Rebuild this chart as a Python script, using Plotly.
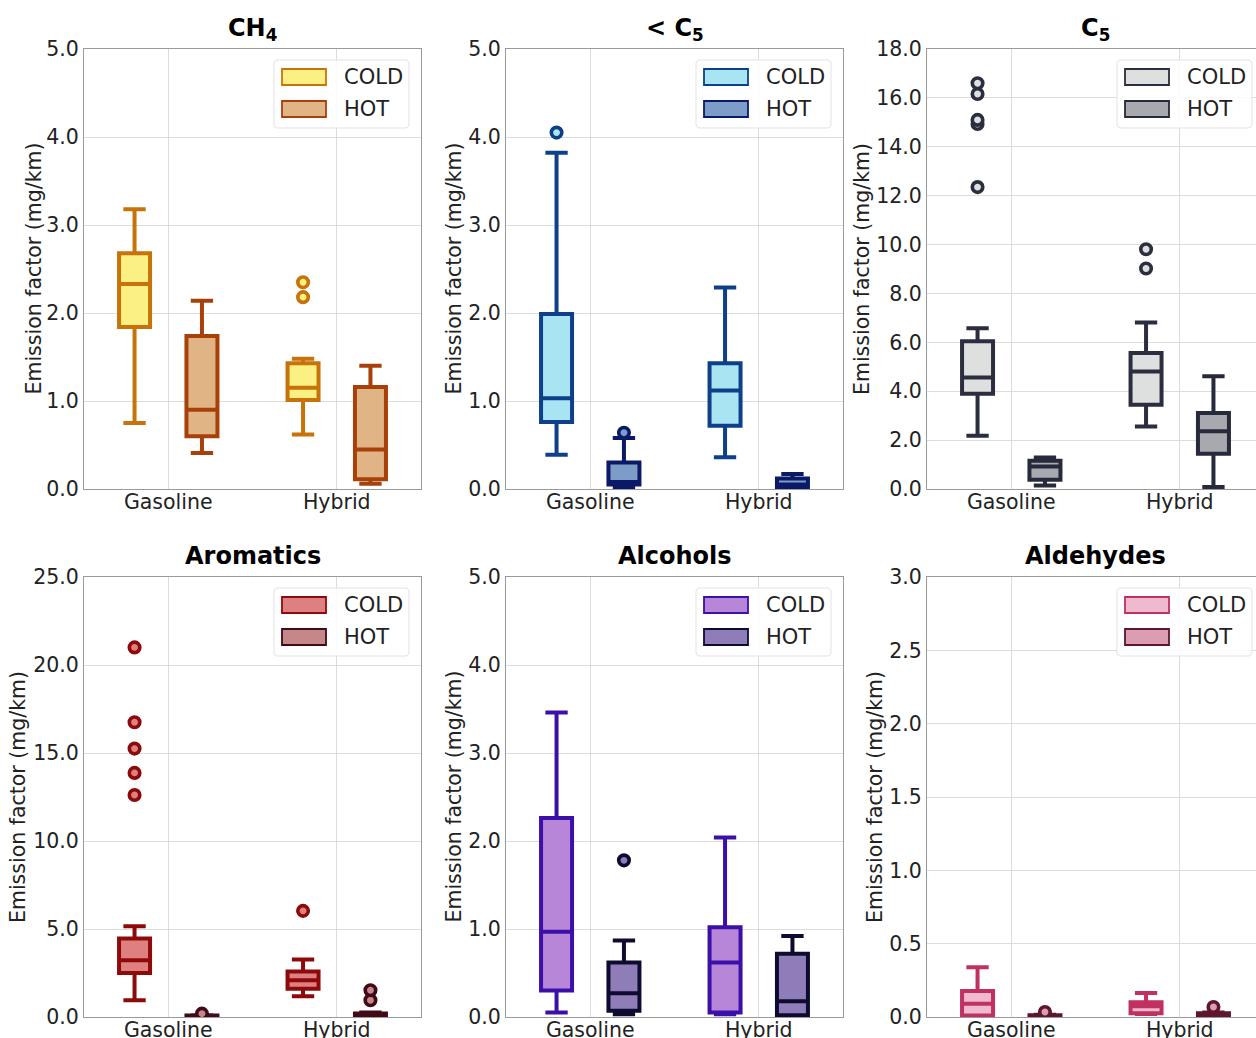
import plotly.graph_objects as go

W, H = 1256, 1038

# ---------------- data ----------------
groups = ["Gasoline", "Hybrid"]
conditions = ["COLD", "HOT"]
panel_titles = ["<b>CH<sub>4</sub></b>", "<b>&lt; C<sub>5</sub></b>", "<b>C<sub>5</sub></b>",
                "<b>Aromatics</b>", "<b>Alcohols</b>", "<b>Aldehydes</b>"]
y_title = "Emission factor (mg/km)"
y_max = [5.0, 5.0, 18.0, 25.0, 5.0, 3.0]
y_dtick = [1.0, 1.0, 2.0, 5.0, 1.0, 0.5]

ch4_cold = dict(lowerfence=[0.75, 0.62], q1=[1.84, 1.01], median=[2.33, 1.15],
                q3=[2.68, 1.43], upperfence=[3.18, 1.48], outliers=[[], [2.18, 2.35]])
ch4_hot = dict(lowerfence=[0.41, 0.06], q1=[0.60, 0.11], median=[0.90, 0.45],
               q3=[1.74, 1.16], upperfence=[2.14, 1.40], outliers=[[], []])

ltc5_cold = dict(lowerfence=[0.39, 0.36], q1=[0.76, 0.72], median=[1.03, 1.12],
                 q3=[1.99, 1.43], upperfence=[3.82, 2.29], outliers=[[4.05], []])
ltc5_hot = dict(lowerfence=[0.02, 0.005], q1=[0.05, 0.01], median=[0.08, 0.05],
                q3=[0.30, 0.12], upperfence=[0.58, 0.17], outliers=[[0.64], []])

c5_cold = dict(lowerfence=[2.18, 2.56], q1=[3.90, 3.45], median=[4.56, 4.81],
               q3=[6.04, 5.56], upperfence=[6.58, 6.81],
               outliers=[[12.35, 14.93, 15.10, 16.16, 16.60], [9.02, 9.81]])
c5_hot = dict(lowerfence=[0.14, 0.08], q1=[0.38, 1.44], median=[0.92, 2.36],
              q3=[1.16, 3.11], upperfence=[1.29, 4.61], outliers=[[], []])

arom_cold = dict(lowerfence=[0.95, 1.18], q1=[2.50, 1.61], median=[3.22, 2.09],
                 q3=[4.46, 2.58], upperfence=[5.16, 3.26],
                 outliers=[[12.61, 13.87, 15.25, 16.75, 21.00], [6.03]])
arom_hot = dict(lowerfence=[0.0, 0.0], q1=[0.02, 0.03], median=[0.05, 0.10],
                q3=[0.08, 0.20], upperfence=[0.10, 0.25], outliers=[[0.19], [0.95, 1.52]])

alc_cold = dict(lowerfence=[0.05, 0.03], q1=[0.30, 0.05], median=[0.97, 0.62],
                q3=[2.26, 1.02], upperfence=[3.46, 2.04], outliers=[[], []])
alc_hot = dict(lowerfence=[0.03, 0.01], q1=[0.07, 0.02], median=[0.27, 0.18],
               q3=[0.62, 0.72], upperfence=[0.87, 0.92], outliers=[[1.78], []])

ald_cold = dict(lowerfence=[0.005, 0.02], q1=[0.01, 0.025], median=[0.09, 0.073],
                q3=[0.178, 0.10], upperfence=[0.34, 0.164], outliers=[[], []])
ald_hot = dict(lowerfence=[0.0, 0.0], q1=[0.003, 0.004], median=[0.007, 0.012],
               q3=[0.012, 0.025], upperfence=[0.015, 0.03], outliers=[[0.034], [0.068]])

panel_data = [(ch4_cold, ch4_hot), (ltc5_cold, ltc5_hot), (c5_cold, c5_hot),
              (arom_cold, arom_hot), (alc_cold, alc_hot), (ald_cold, ald_hot)]

# fill / edge colours per panel: (COLD, HOT)
fill_colors = [("#FAF083", "#E0B485"), ("#A8E4F2", "#7D9CC8"), ("#DEDFDF", "#A8A9AE"),
               ("#DE8080", "#C58888"), ("#B886D8", "#8F7DBA"), ("#EFBACF", "#DC9DB2")]
edge_colors = [("#C8720A", "#A8400A"), ("#0D4089", "#0B1A66"), ("#2A2E3E", "#262A3A"),
               ("#8E0A0A", "#400A16"), ("#3A10A8", "#0E0B30"), ("#C03060", "#5E1530")]

# ---------------- layout geometry (pixels) ----------------
col_left = [84, 506, 927]
row_top = [49, 577]
panel_w, panel_h = 337, 440
ytitle_offset = [50.5, 52.5, 65, 66, 52.5, 52]
title_offset = [20, 20, 20, 21, 21, 21]

FONT = "DejaVu Sans"
GRID = "#dcdcdc"
FRAME = "#9a9a9a"
TXT = "#222222"

fig = go.Figure()
layout = dict(
    width=W, height=H, autosize=False,
    margin=dict(l=0, r=0, t=0, b=0, pad=0, autoexpand=False),
    paper_bgcolor="white", plot_bgcolor="white",
    boxmode="group", boxgap=0.2, boxgroupgap=0.54,
    showlegend=False, font=dict(family=FONT, color=TXT),
)

shapes, annotations = [], []


def px_x(p):
    return p / W


def px_y(p):
    return 1 - p / H


def rounded_rect(xa, ya, xb, yb, rad):
    """SVG path (paper coords) of a rectangle with rounded corners, pixel inputs."""
    pts = [
        ("M", xa + rad, ya), ("L", xb - rad, ya), ("Q", xb, ya, xb, ya + rad),
        ("L", xb, yb - rad), ("Q", xb, yb, xb - rad, yb), ("L", xa + rad, yb),
        ("Q", xa, yb, xa, yb - rad), ("L", xa, ya + rad), ("Q", xa, ya, xa + rad, ya),
    ]
    out = []
    for p in pts:
        cmd = p[0]
        coords = p[1:]
        pairs = ["%.6f,%.6f" % (px_x(coords[j]), px_y(coords[j + 1]))
                 for j in range(0, len(coords), 2)]
        out.append(cmd + " ".join(pairs))
    return " ".join(out) + " Z"


for i in range(6):
    r, c = divmod(i, 3)
    ax = "" if i == 0 else str(i + 1)
    x0 = col_left[c]
    x1 = min(x0 + panel_w, W)
    y0 = row_top[r]
    x_end = -0.5 + 2.0 * (x1 - x0) / panel_w

    layout["xaxis" + ax] = dict(
        domain=[px_x(x0), px_x(x1)], anchor="y" + ax, type="category",
        categoryorder="array", categoryarray=groups, range=[-0.5, x_end],
        showgrid=True, gridcolor=GRID, gridwidth=1, showline=True, linecolor=FRAME,
        linewidth=1, mirror=True, ticks="", zeroline=False, ticklabelstandoff=-6,
        automargin=False, tickfont=dict(family=FONT, size=20.5, color=TXT),
    )
    layout["yaxis" + ax] = dict(
        domain=[px_y(y0 + panel_h), px_y(y0)], anchor="x" + ax,
        range=[0, y_max[i]], dtick=y_dtick[i], tick0=0, tickformat=".1f",
        showgrid=True, gridcolor=GRID, gridwidth=1, showline=True, linecolor=FRAME,
        linewidth=1, mirror=(c < 2), ticks="", zeroline=False, automargin=False,
        tickfont=dict(family=FONT, size=20.5, color=TXT),
    )

    for k, cond in enumerate(conditions):
        d = panel_data[i][k]
        samples = [[d["median"][j]] + d["outliers"][j] for j in range(len(groups))]
        fig.add_trace(go.Box(
            name=cond, x=groups, y=samples,
            q1=d["q1"], median=d["median"], q3=d["q3"],
            lowerfence=d["lowerfence"], upperfence=d["upperfence"],
            xaxis="x" + ax, yaxis="y" + ax,
            alignmentgroup="panel%d" % i, offsetgroup=cond,
            fillcolor=fill_colors[i][k],
            line=dict(color=edge_colors[i][k], width=4),
            marker=dict(color=fill_colors[i][k], size=10.5,
                        line=dict(color=edge_colors[i][k], width=3.6)),
            boxpoints="outliers", pointpos=0, jitter=0, whiskerwidth=0.72,
            showlegend=False, hoverinfo="skip",
        ))

    # panel title
    annotations.append(dict(
        text=panel_titles[i], x=px_x(x0 + panel_w / 2), y=px_y(y0 - title_offset[i]),
        xref="paper", yref="paper", xanchor="center", yanchor="middle",
        showarrow=False, font=dict(family=FONT, size=24, color="black"),
    ))
    # y-axis title
    annotations.append(dict(
        text=y_title, x=px_x(x0 - ytitle_offset[i]), y=px_y(y0 + panel_h / 2),
        xref="paper", yref="paper", xanchor="center", yanchor="middle",
        textangle=-90, showarrow=False, font=dict(family=FONT, size=20.5, color=TXT),
    ))

    # legend frame
    shapes.append(dict(
        type="path", xref="paper", yref="paper",
        path=rounded_rect(x0 + 190, y0 + 11, x0 + 325, y0 + 79, 4),
        fillcolor="rgba(255,255,255,0.85)", line=dict(color="#e2e2e2", width=1),
        layer="above",
    ))
    for k, cond in enumerate(conditions):
        cy = y0 + 28 + 32 * k
        shapes.append(dict(
            type="rect", xref="paper", yref="paper",
            x0=px_x(x0 + 198), x1=px_x(x0 + 242), y0=px_y(cy + 8), y1=px_y(cy - 8),
            fillcolor=fill_colors[i][k], line=dict(color=edge_colors[i][k], width=1.8),
            layer="above",
        ))
        annotations.append(dict(
            text=cond, x=px_x(x0 + 258), y=px_y(cy), xref="paper", yref="paper",
            xanchor="left", yanchor="middle", showarrow=False,
            font=dict(family=FONT, size=21, color=TXT),
        ))

layout["shapes"] = shapes
layout["annotations"] = annotations
fig.update_layout(**layout)

fig.write_html("out.html")
